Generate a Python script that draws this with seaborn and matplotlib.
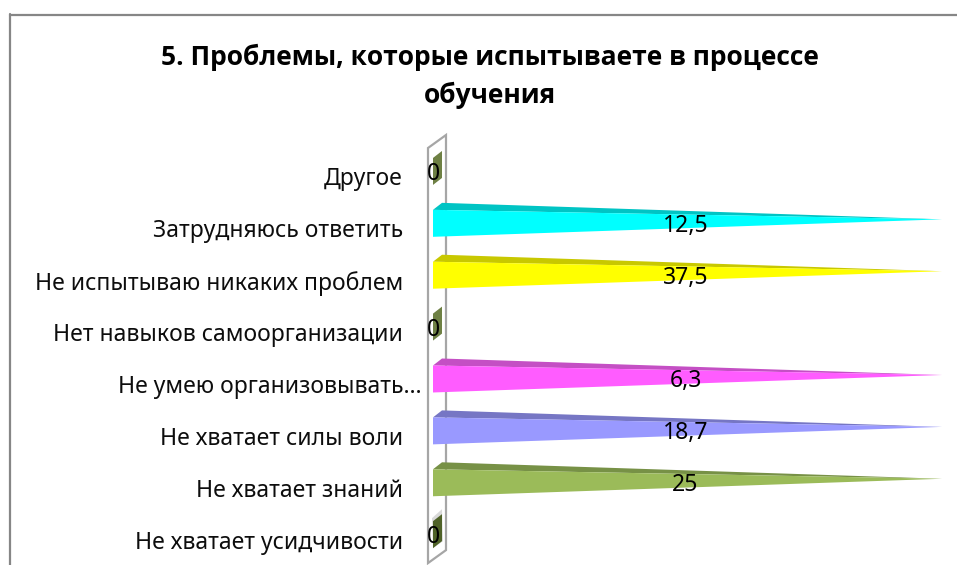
import matplotlib
matplotlib.use("Agg")
import matplotlib.pyplot as plt
import seaborn as sns
import pandas as pd
from matplotlib.patches import Polygon
from matplotlib.lines import Line2D
from matplotlib.transforms import ScaledTranslation

categories = ["Другое", "Затрудняюсь ответить", "Не испытываю никаких проблем",
              "Нет навыков самоорганизации", "Не умею организовывать…",
              "Не хватает силы воли", "Не хватает знаний", "Не хватает усидчивости"]
values = [0, 12.5, 37.5, 0, 6.3, 18.7, 25, 0]
value_labels = ["0", "12,5", "37,5", "0", "6,3", "18,7", "25", "0"]
front_colors = ["#6E8044", "#00FFFF", "#FFFF00", "#6E8044", "#FF5CFF", "#9999FF", "#9BBB59", "#4F6228"]
top_colors = ["#6E8044", "#00C4C4", "#C8C800", "#6E8044", "#C44FC4", "#7676C4", "#779146", "#4F6228"]

# Each category is its own 100 % stacked bar: non-zero values fill the whole axis
reach = [100.0 if v > 0 else 0.0 for v in values]

W, H = 957, 565
X0, X1, YT, YB = 433, 942, 145.5, 560.6

sns.set_theme(style="white")
plt.rcParams["font.family"] = ["Noto Sans", "DejaVu Sans"]

fig = plt.figure(figsize=(W / 100, H / 100), dpi=100)
ax = fig.add_axes([X0 / W, 1 - YB / H, (X1 - X0) / W, (YB - YT) / H])
df = pd.DataFrame({"category": categories, "reach": reach})
sns.barplot(data=df, x="reach", y="category", hue="category", palette=front_colors,
            legend=False, width=0.52, ax=ax, saturation=1, order=categories)
ax.set_xlim(0, 100)
ax.set_ylim(7.5, -0.5)
ax.set_xlabel("")
ax.set_ylabel("")
ax.set_xticks([])
for s in ax.spines.values():
    s.set_visible(False)

px = 100 / (X1 - X0)
py = (len(categories)) / (YB - YT)
dx, dy = 9 * px, -7 * py

bars = sorted(ax.patches[:], key=lambda p: p.get_y())

# wall behind the bars
wall = Polygon([(-5 * px, -0.5 + 2.5 * py), (13 * px, -0.5 - 10.5 * py),
                (13 * px, 7.5 - 10.5 * py), (-5 * px, 7.5 + 2.5 * py)],
               closed=True, fill=False, edgecolor="#A6A6A6", lw=1.6, clip_on=False, zorder=1)
ax.add_patch(wall)

for i, p in enumerate(bars):
    y0, h, w = p.get_y(), p.get_height(), p.get_width()
    yc = y0 + h / 2
    p.set_alpha(0)
    if w > 0:
        tip = (w, yc - 4 * py)
        ax.add_patch(Polygon([(0, y0), (dx, y0 + dy), tip], closed=True, fc=top_colors[i],
                             ec="none", clip_on=False, zorder=3))
        ax.add_patch(Polygon([(0, y0), tip, (0, y0 + h)], closed=True, fc=front_colors[i],
                             ec="none", clip_on=False, zorder=3))
    else:
        if i == len(categories) - 1:
            ax.add_patch(Polygon([(-1 * px, y0 - 3 * py), (dx, y0 + dy - 5 * py), (dx + 1 * px, y0 + dy + h),
                                  (0, y0 + h)], closed=True, fc="#D9D9D9", ec="none", clip_on=False, zorder=2))
        ax.add_patch(Polygon([(0, y0), (dx, y0 + dy), (dx, y0 + dy + h), (0, y0 + h)], closed=True,
                             fc=front_colors[i], ec="none", clip_on=False, zorder=3))
    label_dx = -2 * px if w > 0 else 0
    ax.text(w / 2 + label_dx, yc + 2.5 * py, value_labels[i],
            ha="center", va="center", fontsize=16.5, color="black", zorder=5, clip_on=False)

ax.tick_params(axis="y", length=0, pad=21.6, labelsize=16.5, labelcolor="#0d0d0d")
for lab in ax.get_yticklabels():
    shift = 19 if lab.get_text().endswith("…") else 0
    lab.set_transform(lab.get_transform() + ScaledTranslation(shift / 100, -5 / 100, fig.dpi_scale_trans))

# chart frame
frame = "#868686"
fig.add_artist(Line2D([10 / W, 1], [1 - 14.5 / H, 1 - 14.5 / H], color=frame, lw=1.6, transform=fig.transFigure))
fig.add_artist(Line2D([10 / W, 10 / W], [1 - 14 / H, 0], color=frame, lw=1.6, transform=fig.transFigure))

for yy, line in [(57, "5. Проблемы, которые испытываете в процессе"), (95, "обучения")]:
    fig.text(490 / W, 1 - yy / H, line, ha="center", va="center", fontsize=19, fontweight="bold",
             color="black", family=["Open Sans", "DejaVu Sans"])

fig.savefig("out.png", dpi=100, facecolor="white")
